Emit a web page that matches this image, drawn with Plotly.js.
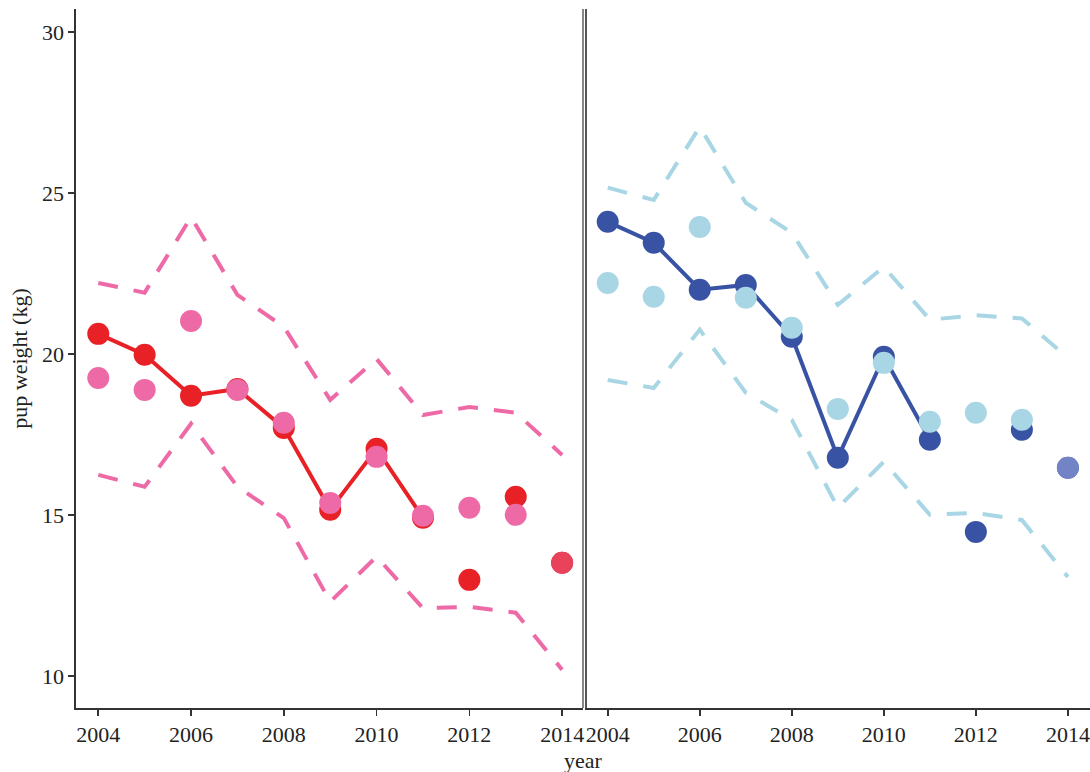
<!DOCTYPE html>
<html>
<head>
<meta charset="utf-8">
<script src="https://cdn.plot.ly/plotly-3.0.1.min.js"></script>
<style>html,body{margin:0;padding:0;background:#fff;}#chart{width:1090px;height:772px;}</style>
</head>
<body>
<div id="chart"></div>
<script>
// ---- data ----
const years = [2004, 2005, 2006, 2007, 2008, 2009, 2010, 2011, 2012, 2013, 2014];
const xTicks = [2004, 2006, 2008, 2010, 2012, 2014];
const yTicks = [10, 15, 20, 25, 30];
const nLine = 8; // solid line joins the first 8 years (2004-2011)

// left panel
const redObs    = [20.62, 19.97, 18.70, 18.91, 17.70, 15.16, 17.05, 14.91, 12.98, 15.56, 13.51];
const pinkPred  = [19.25, 18.88, 21.02, 18.88, 17.86, 15.37, 16.80, 14.97, 15.22, 15.00, 13.51];
const pinkUpper = [22.20, 21.90, 24.25, 21.83, 20.84, 18.57, 19.84, 18.10, 18.35, 18.17, 16.86];
const pinkLower = [16.24, 15.87, 17.83, 15.87, 14.90, 12.30, 13.70, 12.10, 12.14, 11.96, 10.19];

// right panel
const blueObs    = [24.10, 23.45, 21.99, 22.14, 20.53, 16.77, 19.91, 17.33, 14.47, 17.64, 16.46];
const lbluePred  = [22.20, 21.77, 23.94, 21.74, 20.81, 18.29, 19.72, 17.89, 18.17, 17.95, 16.46];
const lblueUpper = [25.16, 24.78, 27.05, 24.69, 23.76, 21.52, 22.70, 21.06, 21.20, 21.10, 19.88];
const lblueLower = [19.19, 18.94, 20.75, 18.79, 17.95, 15.22, 16.65, 15.00, 15.06, 14.84, 13.07];

// ---- styles ----
const RED = '#e82127', PINK = '#ee6aa7', DBLUE = '#3953a4', LBLUE = '#a8d6e4';
const pinkColors = years.map((y, i) => i === years.length - 1 ? '#e8435a' : PINK);
const lblueColors = years.map((y, i) => i === years.length - 1 ? '#7384c6' : LBLUE);
const FONT = '"Liberation Serif", "Times New Roman", serif';
const MS = 22;

function dashed(x, y, color, xa, ya) {
  return {x: x, y: y, xaxis: xa, yaxis: ya, type: 'scatter', mode: 'lines',
    line: {color: color, width: 4, dash: '20px,16px'}, hoverinfo: 'skip'};
}

const traces = [
  dashed(years, pinkUpper, PINK, 'x', 'y'),
  dashed(years, pinkLower, PINK, 'x', 'y'),
  {x: years.slice(0, nLine), y: redObs.slice(0, nLine), xaxis: 'x', yaxis: 'y', type: 'scatter', mode: 'lines',
    line: {color: RED, width: 4}},
  {x: years, y: redObs, xaxis: 'x', yaxis: 'y', type: 'scatter', mode: 'markers',
    marker: {color: RED, size: MS}},
  {x: years, y: pinkPred, xaxis: 'x', yaxis: 'y', type: 'scatter', mode: 'markers',
    marker: {color: pinkColors, size: MS}},

  dashed(years, lblueUpper, LBLUE, 'x2', 'y2'),
  dashed(years, lblueLower, LBLUE, 'x2', 'y2'),
  {x: years.slice(0, nLine), y: blueObs.slice(0, nLine), xaxis: 'x2', yaxis: 'y2', type: 'scatter', mode: 'lines',
    line: {color: DBLUE, width: 4}},
  {x: years, y: blueObs, xaxis: 'x2', yaxis: 'y2', type: 'scatter', mode: 'markers',
    marker: {color: DBLUE, size: MS}},
  {x: years, y: lbluePred, xaxis: 'x2', yaxis: 'y2', type: 'scatter', mode: 'markers',
    marker: {color: lblueColors, size: MS}}
];

const tickFont = {family: FONT, size: 22, color: '#222'};
const axisCommon = {
  showgrid: false, zeroline: false, showline: true, linecolor: '#333', linewidth: 1.6,
  ticks: 'outside', ticklen: 6, tickwidth: 1.6, tickcolor: '#333', tickfont: tickFont
};

const layout = {
  width: 1090, height: 772,
  margin: {l: 76, r: 0, t: 9, b: 64},
  paper_bgcolor: '#fff', plot_bgcolor: '#fff',
  showlegend: false,
  font: {family: FONT, color: '#222'},
  xaxis: Object.assign({}, axisCommon, {domain: [0, 0.5], range: [2003.52, 2014.45],
    tickvals: xTicks, ticktext: xTicks.map(String), anchor: 'y'}),
  xaxis2: Object.assign({}, axisCommon, {domain: [0.5035, 1], range: [2003.54, 2014.48],
    tickvals: xTicks, ticktext: xTicks.map(String), anchor: 'y2'}),
  yaxis: Object.assign({}, axisCommon, {range: [9.0, 30.71], tickvals: yTicks,
    ticktext: yTicks.map(String), anchor: 'x',
    title: {text: 'pup weight (kg)', font: {family: FONT, size: 22, color: '#222'}, standoff: 8}}),
  yaxis2: Object.assign({}, axisCommon, {range: [9.0, 30.71], tickvals: yTicks,
    showticklabels: false, ticks: '', anchor: 'x2', linecolor: '#555', linewidth: 1.4}),
  shapes: [
    {type: 'line', xref: 'x domain', yref: 'y domain', x0: 1, x1: 1, y0: 0, y1: 1,
      line: {color: '#555', width: 1.4}}
  ],
  annotations: [
    {text: 'year', xref: 'paper', yref: 'paper', x: 0.5, y: 0, yshift: -52, xanchor: 'center', yanchor: 'middle',
      showarrow: false, font: {family: FONT, size: 22, color: '#222'}}
  ]
};

Plotly.newPlot('chart', traces, layout, {displayModeBar: false, staticPlot: true});
</script>
</body>
</html>
